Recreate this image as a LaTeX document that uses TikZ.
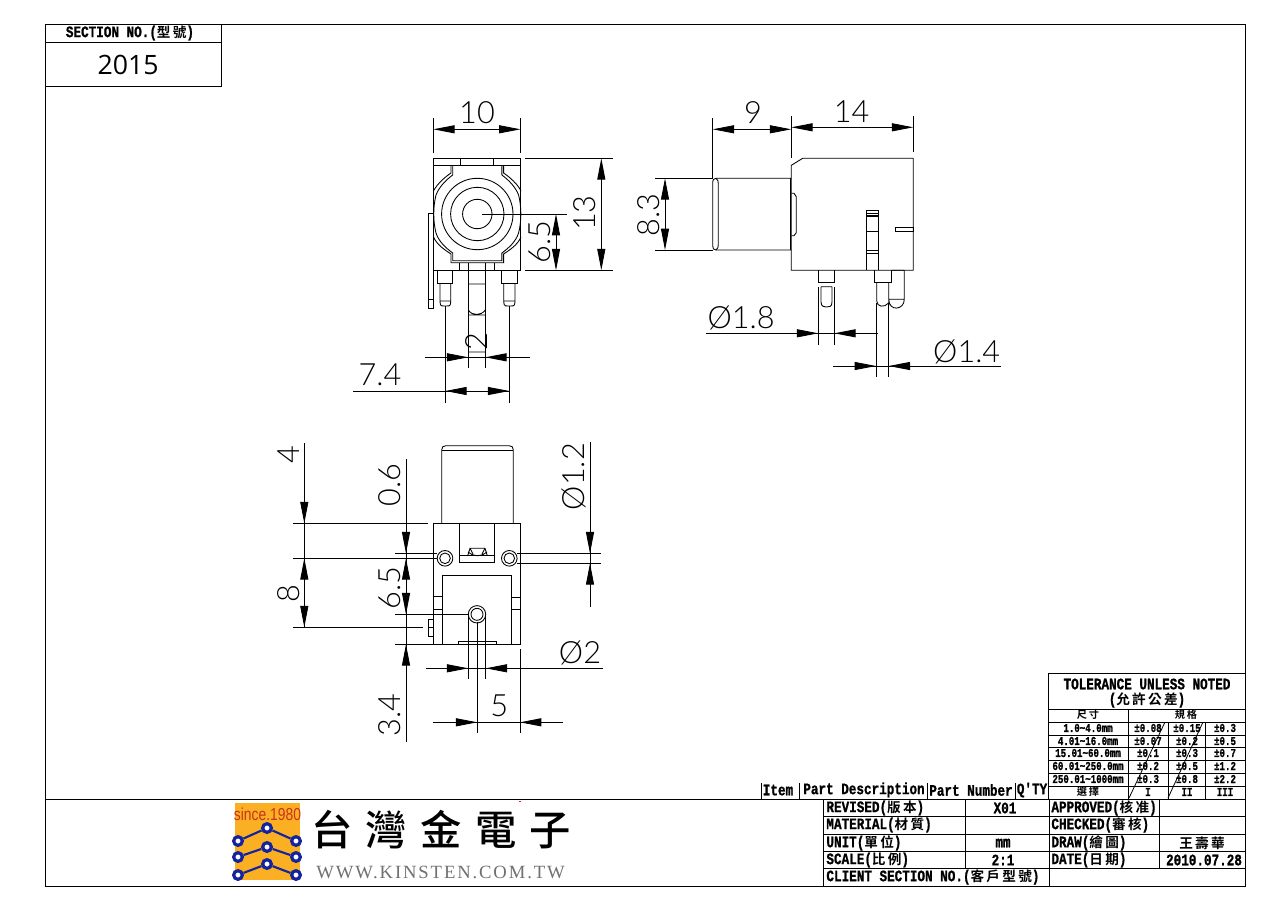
\documentclass[tikz,border=0pt]{standalone}
\usepackage{fontspec}
\usetikzlibrary{arrows.meta}
\setmainfont{Liberation Serif}
\newfontfamily\dimfont{Lato}[UprightFont=* Light]
\newfontfamily\codefont{Open Sans}
\newfontfamily\tblfont{Liberation Mono}[UprightFont=* Bold,FakeStretch=.79,FakeBold=1]
\newfontfamily\smfont{Liberation Mono}[UprightFont=* Bold,FakeStretch=.76,FakeBold=1]
\newfontfamily\cjkfont{Noto Sans CJK TC}[UprightFont=* Bold,Scale=.85,LetterSpace=17]
\newfontfamily\logofont{Noto Sans CJK TC}[UprightFont=* Medium,LetterSpace=32]
\newfontfamily\webfont{Liberation Serif}[LetterSpace=10]
\newfontfamily\sincefont{Liberation Sans}[FakeStretch=.8]
\newcommand{\cn}[1]{{\cjkfont #1}}
\tikzset{
  % tips of the dimension lines
  dimboth/.style={{Triangle[length=16pt,width=6pt]}-{Triangle[length=16pt,width=6pt]}},
  dimtip/.style={-{Triangle[length=16pt,width=6pt]}},
  dimtext/.style={font=\dimfont\fontsize{23}{23}\selectfont,inner sep=0pt},
  cell/.style={font=\tblfont\fontsize{12}{12}\selectfont,inner sep=0pt},
  cellw/.style={cell,anchor=west},
  small/.style={font=\smfont\fontsize{9}{9}\selectfont,inner sep=0pt},
  slim/.style={line width=.6pt},
  rule/.style={line width=.65pt},
  pad/.style={circle,draw=logoblue,line width=2.4pt,fill=white,minimum size=6.5pt,inner sep=0pt},
}
\definecolor{logoblue}{HTML}{14249E}
\definecolor{logoorange}{HTML}{FBB023}
\definecolor{logored}{HTML}{C8321E}
\definecolor{webgray}{HTML}{707070}
\begin{document}
\begin{tikzpicture}[x=.75pt,y=-.75pt,line width=.65pt]
\useasboundingbox (0,0) rectangle (1287,910);
\fill[white] (0,0) rectangle (1287,910);
% sheet
\draw[rule] (45,24) rectangle (1245,886);
\draw[rule] (45,799) -- (1245,799);
\draw[rule] (45,42) -- (221,42) (221,24) -- (221,86) -- (45,86);
\node[cell] (section) at (130,33) {SECTION NO.(\cn{型號})};
\node[font=\codefont\fontsize{20}{20}\selectfont,inner sep=0pt] (code) at (128,65) {2015};

% front view
\draw (433.3,158.3) rectangle (520.5,270.3);
\draw (433.3,165.3) -- (520.5,165.3) (460.7,158.3) -- (460.7,165.3) (493.3,158.3) -- (493.3,165.3);
\draw (477.3,214) circle[radius=14.7] circle[radius=26.7] circle[radius=35.7];
\draw (451,165.3) -- (451,173) .. controls (445,177) and (437,184) .. (433.5,191);
\draw (503.6,165.3) -- (503.6,173) .. controls (509.6,177) and (517.6,184) .. (521,191);
\draw (452.7,165.3) -- (452.7,175) .. controls (446,180) and (439,187) .. (436,195)
  .. controls (433,207) and (433,221) .. (436,233) .. controls (439,242) and (446,248) .. (452.7,253) -- (452.7,260.7)
  -- (501.9,260.7) -- (501.9,253) .. controls (508.6,248) and (515.6,242) .. (518.6,233)
  .. controls (521.6,221) and (521.6,207) .. (518.6,195) .. controls (515.6,187) and (508.6,180) .. (501.9,175) -- (501.9,165.3);
\draw (433.5,237) .. controls (437,245) and (445,250) .. (451,254) -- (451,262.7) -- (503.6,262.7) -- (503.6,254)
  .. controls (509.6,250) and (517.6,245) .. (521,237);
\draw (459.3,262.7) -- (459.3,270.3) (494.7,262.7) -- (494.7,270.3);
\draw (468.3,262.7) -- (468.3,368.3) (485.3,262.7) -- (485.3,368.3);
\draw (468.3,284) -- (485.3,284) (468.3,310) .. controls (472,316) and (481,316) .. (485.3,310) (468.3,315) -- (485.3,315) (468.3,352) -- (485.3,352);
% pins of the front view
\draw (437.3,270.3) -- (437.3,283) -- (452.7,283) -- (452.7,270.3);
\draw (440,283) -- (440,302) .. controls (440,307) and (443,306) .. (445.3,306) .. controls (448,306) and (450.7,307) .. (450.7,302) -- (450.7,283) (440,301) -- (450.7,301);
\draw (501.3,270.3) -- (501.3,283) -- (517.7,283) -- (517.7,270.3);
\draw (503.7,283) -- (503.7,302) .. controls (503.7,307) and (507,306) .. (509.3,306) .. controls (512,306) and (515,307) .. (515,302) -- (515,283) (503.7,301) -- (515,301);
\draw (428.3,213.3) rectangle (433.3,308.3) (428.3,299.3) -- (433.3,299.3);
% dimensions of the front view
\draw (433.3,118) -- (433.3,152.7) (520.5,118) -- (520.5,152.7);
\draw[dimboth] (433.3,129.3) -- (520.5,129.3);
\node[dimtext] (w10) at (477,113) {10};
\draw (525,158.3) -- (613.3,158.3) (525,270.3) -- (613.3,270.3);
\draw[dimboth] (601.3,158.3) -- (601.3,270.3);
\node[dimtext,rotate=90] (h13) at (585,213) {13};
\draw (482.3,214) -- (566.7,214);
\draw[dimboth] (556,214) -- (556,270.3);
\node[dimtext,rotate=90] (h65) at (540,242) {6.5};
\draw (445.3,306) -- (445.3,403.3) (509.3,306) -- (509.3,403.3);
\draw (353.3,391) -- (509.3,391);
\draw[dimtip] (466,391) -- (445.3,391);
\draw[dimtip] (488,391) -- (509.3,391);
\node[dimtext] (w74) at (380,375) {7.4};
\draw (425,357.3) -- (530,357.3);
\draw[dimtip] (446.6,357.3) -- (468.3,357.3);
\draw[dimtip] (507,357.3) -- (485.3,357.3);
\node[dimtext,rotate=90] (w2) at (476.7,341.7) {2};

% side view
\draw (791.3,165.3) -- (802.7,158.3) -- (913.3,158.3) -- (913.3,270.3) -- (791.3,270.3) -- cycle;
\draw (791.3,178.3) -- (716,178.3) .. controls (713.5,178.3) and (712.7,180) .. (712.7,182) -- (712.7,246)
  .. controls (712.7,248.5) and (713.5,250) .. (716,250) -- (791.3,250);
\draw (716,178.3) .. controls (718,180) and (718.3,181) .. (718.3,184) -- (718.3,244.5) .. controls (718.3,247) and (718,248.5) .. (716,250);
\draw (790.6,178.3) -- (790.6,250);
\draw (791.3,193.3) -- (794,193.3) -- (796.3,196.7) -- (796.3,232.7) -- (794,235.7) -- (791.3,235.7);
\draw (866,270.3) -- (866,210) -- (878.7,210) -- (878.7,270.3);
\draw[line width=1.2pt] (866,216) -- (878.7,216);
\draw (866,213.5) -- (878.7,213.5) (866,231.7) -- (878.7,231.7) (866,250) -- (878.7,250) (866,253.3) -- (878.7,253.3);
\draw (895.3,227.3) rectangle (913.3,231.7);
\draw (818.3,270.3) -- (818.3,282.7) -- (834.3,282.7) -- (834.3,270.3);
\draw (821,286.7) -- (821,302) .. controls (821,307) and (825,307) .. (826.5,307) .. controls (829,307) and (832,307) .. (832,302) -- (832,286.7) (821,286.7) -- (832,286.7);
\draw (874.3,270.3) -- (874.3,282.7) -- (891.7,282.7) -- (891.7,270.3) (874.3,282.7) -- (876.7,282.7);
\draw (876.7,282.7) -- (876.7,301) .. controls (877,307) and (884,308) .. (888.7,303);
\draw (888.7,282.7) -- (888.7,306) (891.7,270.3) -- (904.3,270.3) (904.3,270.3) -- (904.3,299.3) .. controls (904.3,310) and (889,312) .. (888.7,299.3) (888.7,299.3) -- (904.3,299.3);
% dimensions of the side view
\draw (712.7,118.3) -- (712.7,178.3) (791.3,116) -- (791.3,158.3) (913.3,116) -- (913.3,152.3);
\draw[dimboth] (712.7,129.3) -- (791.3,129.3);
\draw[dimboth] (791.3,127.3) -- (913.3,127.3);
\node[dimtext] (w9) at (753,113) {9};
\node[dimtext] (w14) at (851.7,111.7) {14};
\draw (655,178.3) -- (712.7,178.3) (655,250) -- (712.7,250);
\draw[dimboth] (665,178.3) -- (665,250);
\node[dimtext,rotate=90] (h83) at (648.3,215) {8.3};
\draw (818.3,287) -- (818.3,345) (834.3,287) -- (834.3,345);
\draw (706,333.3) -- (877.7,333.3);
\draw[dimtip] (796.7,333.3) -- (818.3,333.3);
\draw[dimtip] (856,333.3) -- (834.3,333.3);
\node[dimtext] (d18) at (741,317.7) {Ø1.8};
\draw (876,303) -- (876,376.7) (888.7,303) -- (888.7,376.7);
\draw (833.3,366) -- (1000.7,366);
\draw[dimtip] (855,366) -- (876,366);
\draw[dimtip] (910.7,366) -- (888.7,366);
\node[dimtext] (d14) at (966.7,351.7) {Ø1.4};

% top view
\draw (441.7,523.3) -- (441.7,450) .. controls (441.7,447) and (443,445.7) .. (446,445.7) -- (509,445.7) .. controls (512,445.7) and (513.3,447) .. (513.3,450) -- (513.3,523.3);
\draw (441.7,450.7) -- (513.3,450.7);
\draw (433.3,523.3) rectangle (520,644.3);
\draw (459.3,523.3) rectangle (494.3,562.3) (459.3,555.7) -- (494.3,555.7);
\draw (467.7,555.7) -- (470,548.3) -- (485,548.3) -- (487.3,555.7) (470,548.3) -- (473,554) (485,548.3) -- (482,554) (468,552) .. controls (473,557) and (482,557) .. (487,552);
\draw (442.3,644.3) -- (442.3,575.7) -- (511.3,575.7) -- (511.3,644.3);
\draw (433.3,596.7) -- (442.3,596.7) (433.3,609) -- (442.3,609) (511.3,597.7) -- (520,597.7) (511.3,609) -- (520,609);
\draw (458.3,644.3) -- (458.3,641) -- (496.7,641) -- (496.7,644.3);
\draw (445,558.3) circle[radius=7.8] circle[radius=5.3];
\draw (509.3,558.3) circle[radius=7.8] circle[radius=5.3];
\draw (477,614.3) circle[radius=8.7] circle[radius=6];
\draw (428.3,619) rectangle (433.3,636.7) (428.3,627.7) -- (433.3,627.7);
% dimensions of the top view
\draw (304.3,443.3) -- (304.3,627.3);
\draw (293.3,523.3) -- (428.3,523.3) (293.3,558.3) -- (436.7,558.3) (293.3,627.3) -- (423.3,627.3);
\draw[dimtip] (304.3,501.7) -- (304.3,523.3);
\draw[dimtip] (304.3,580) -- (304.3,558.3);
\draw[dimtip] (304.3,605.7) -- (304.3,627.3);
\node[dimtext,rotate=90] (h4) at (288.3,455) {4};
\node[dimtext,rotate=90] (h8) at (288.3,594) {8};
\draw (406,459.3) -- (406,741.7);
\draw (395,553.3) -- (436.7,553.3) (395,614.3) -- (468.3,614.3) (395,644.3) -- (433.3,644.3);
\draw[dimtip] (406,531.7) -- (406,553.3);
\draw[dimtip] (406,580) -- (406,558.3);
\draw[dimtip] (406,593) -- (406,614.3);
\draw[dimtip] (406,666.7) -- (406,644.3);
\node[dimtext,rotate=90] (h06) at (389.3,485) {0.6};
\node[dimtext,rotate=90] (h65b) at (389.3,588.3) {6.5};
\node[dimtext,rotate=90] (h34) at (389.3,715) {3.4};
\draw (590,441.7) -- (590,606.7);
\draw (516.7,553.3) -- (601,553.3) (516.7,563.3) -- (601,563.3);
\draw[dimtip] (590,531.7) -- (590,553.3);
\draw[dimtip] (590,585) -- (590,563.3);
\node[dimtext,rotate=90] (d12) at (574,476.7) {Ø1.2};
\draw (468.3,614.3) -- (468.3,679.3) (485.7,614.3) -- (485.7,679.3);
\draw (425.7,668.3) -- (602.7,668.3);
\draw[dimtip] (446.7,668.3) -- (468.3,668.3);
\draw[dimtip] (507.3,668.3) -- (485.7,668.3);
\node[dimtext] (d2) at (580,653) {Ø2};
\draw (477.3,621.7) -- (477.3,733.3) (520,649) -- (520,733.3);
\draw (433.3,722.3) -- (563.3,722.3);
\draw[dimtip] (455.7,722.3) -- (477.3,722.3);
\draw[dimtip] (541.7,722.3) -- (520,722.3);
\node[dimtext] (w5) at (499.3,706) {5};

% tolerance table
\draw[rule] (1048,799) -- (1048,673) -- (1245,673);
\draw[slim] (1048,709) -- (1245,709) (1048,722) -- (1245,722) (1048,735) -- (1245,735) (1048,747) -- (1245,747)
  (1048,760) -- (1245,760) (1048,773) -- (1245,773) (1048,786) -- (1245,786);
\draw[slim] (1128,709) -- (1128,799) (1168,722) -- (1168,799) (1205,722) -- (1205,799);
\draw[slim] (1165,722) -- (1129,798) (1203,722) -- (1168,798);
\node[cell] (tol) at (1147,684) {TOLERANCE UNLESS NOTED};
\node[cell] (tolcn) at (1147,700) {(\cn{允許公差})};
\node[small] (size) at (1088,715) {\cn{尺寸}};
\node[small] (spec) at (1186,715) {\cn{規格}};
\node[small] (r1) at (1088,728) {1.0\textasciitilde4.0mm};
\node[small] (r2) at (1088,741) {4.01\textasciitilde16.0mm};
\node[small] (r3) at (1088,753) {15.01\textasciitilde60.0mm};
\node[small] (r4) at (1088,766) {60.01\textasciitilde250.0mm};
\node[small] (r5) at (1088,779) {250.01\textasciitilde1000mm};
\node[small] (a1) at (1148,728) {±0.08};
\node[small] (b1) at (1187,728) {±0.15};
\node[small] (c1) at (1225,728) {±0.3};
\node[small] (a2) at (1148,741) {±0.07};
\node[small] (b2) at (1187,741) {±0.2};
\node[small] (c2) at (1225,741) {±0.5};
\node[small] (a3) at (1148,753) {±0.1};
\node[small] (b3) at (1187,753) {±0.3};
\node[small] (c3) at (1225,753) {±0.7};
\node[small] (a4) at (1148,766) {±0.2};
\node[small] (b4) at (1187,766) {±0.5};
\node[small] (c4) at (1225,766) {±1.2};
\node[small] (a5) at (1148,779) {±0.3};
\node[small] (b5) at (1187,779) {±0.8};
\node[small] (c5) at (1225,779) {±2.2};
\node[small] (pick) at (1088,792) {\cn{選擇}};
\node[small] (one) at (1148,792) {I};
\node[small] (two) at (1187,792) {II};
\node[small] (three) at (1225,792) {III};

% parts header
\draw[slim] (761,783) -- (761,799) (799,783) -- (799,799) (927,783) -- (927,799) (1015,783) -- (1015,799);
\node[cell] (item) at (778,790) {Item};
\node[cell] (desc) at (864,790) {Part Description};
\node[cell] (partno) at (971,790) {Part Number};
\node[cell] (qty) at (1032,790) {Q'TY};

% title block
\draw[slim] (823,799) -- (823,886) (1049,799) -- (1049,886) (965,799) -- (965,869) (1159,799) -- (1159,869);
\draw[slim] (823,816.7) -- (1245,816.7) (823,834) -- (1245,834) (823,851) -- (1245,851) (823,868.7) -- (1245,868.7);
\node[cellw] (revised) at (826,808) {REVISED(\cn{版本})};
\node[cellw] (material) at (826,825) {MATERIAL(\cn{材質})};
\node[cellw] (unit) at (826,843) {UNIT(\cn{單位})};
\node[cellw] (scale) at (826,860) {SCALE(\cn{比例})};
\node[cellw] (client) at (826,877) {CLIENT SECTION NO.(\cn{客戶型號})};
\node[cell] (rev) at (1005,808) {X01};
\node[cell] (mm) at (1003,843) {mm};
\node[cell] (ratio) at (1003,860) {2:1};
\node[cellw] (approved) at (1051,808) {APPROVED(\cn{核准})};
\node[cellw] (checked) at (1051,825) {CHECKED(\cn{審核})};
\node[cellw] (draw) at (1051,843) {DRAW(\cn{繪圖})};
\node[cellw] (date) at (1051,860) {DATE(\cn{日期})};
\node[cell] (drawer) at (1202,843) {\cn{王壽華}};
\node[cell] (when) at (1204,860) {2010.07.28};

% logo
\fill[logoorange] (235,803) rectangle (300,880);
\node[text=logored,font=\sincefont\fontsize{13}{13}\selectfont,inner sep=0pt] (since) at (267.5,814) {since.1980};
\node[pad] (p1) at (238,841) {};
\node[pad] (p2) at (267,828) {};
\node[pad] (p3) at (296,841) {};
\node[pad] (p4) at (238,857) {};
\node[pad] (p5) at (267,847) {};
\node[pad] (p6) at (296,857) {};
\node[pad] (p7) at (238,875) {};
\node[pad] (p8) at (267,864) {};
\node[pad] (p9) at (296,875) {};
\draw[logoblue,line width=1.6pt] (p1) -- (p2) -- (p3) (p4) -- (p5) -- (p6) (p7) -- (p8) -- (p9);
\node[font=\logofont\fontsize{31}{31}\selectfont,inner sep=0pt,anchor=west] (brand) at (311,830) {台灣金電子};
\node[font=\webfont\fontsize{14}{14}\selectfont,text=webgray,inner sep=0pt,anchor=west] (web) at (316,872) {WWW.KINSTEN.COM.TW};
\draw[logored] (518.5,801) -- (521,801);
\end{tikzpicture}
\end{document}
